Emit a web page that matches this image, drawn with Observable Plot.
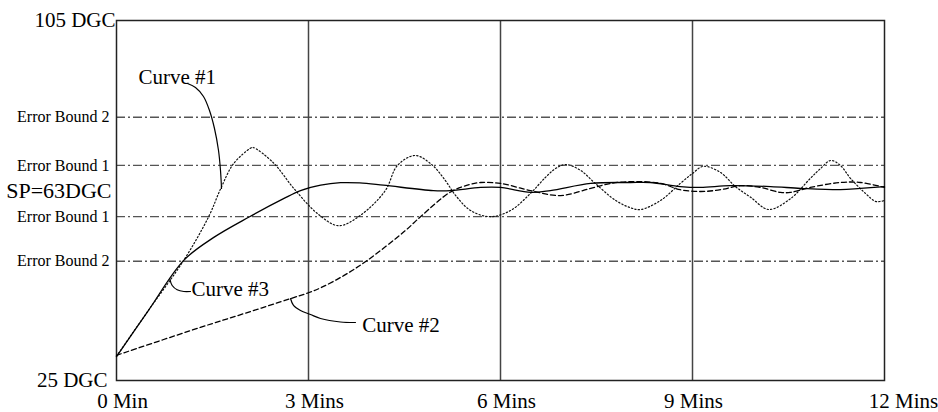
<!DOCTYPE html>
<html><head><meta charset="utf-8">
<script src="https://cdn.jsdelivr.net/npm/d3@7"></script>
<script src="https://cdn.jsdelivr.net/npm/@observablehq/plot@0.6"></script>
<style>body{margin:0;background:#fff} svg{overflow:visible}</style>
</head><body><div id="chart"></div>
<script>
// Curve #1 (dotted)
const curve1Minutes = [0, 0.5, 1.05, 1.44, 1.63, 1.83, 2.09, 2.13, 2.45, 2.77, 3.14, 3.47, 3.81, 4.20, 4.39, 4.67, 4.94, 5.14, 5.30, 5.53, 5.84, 6.16, 6.47, 6.70, 6.86, 7.02, 7.25, 7.48, 7.80, 8.03, 8.19, 8.50, 8.81, 9.00, 9.17, 9.44, 9.67, 9.91, 10.19, 10.53, 10.84, 11.00, 11.16, 11.31, 11.47, 11.70, 11.86, 11.94, 12.0];
const curve1Values  = [30.4, 40.6, 51.7, 61.4, 67.7, 73.2, 76.6, 76.8, 73.4, 67.7, 62.1, 59.4, 61.7, 67.2, 72.8, 75.0, 72.8, 69.4, 66.1, 62.8, 61.4, 62.8, 66.6, 70.1, 72.1, 73.0, 71.7, 68.8, 65.0, 63.4, 63.0, 65.0, 68.8, 71.0, 72.6, 71.2, 68.1, 65.7, 63.0, 65.4, 69.9, 72.1, 73.9, 72.8, 69.9, 66.6, 64.8, 64.8, 65.0];
// Curve #2 (dashed)
const curve2Minutes = [0, 1.31, 2.0, 2.72, 3.0, 3.19, 3.55, 3.92, 4.52, 4.75, 5.22, 5.53, 5.69, 6.0, 6.47, 6.94, 7.41, 7.72, 8.11, 8.50, 8.81, 9.13, 9.44, 9.75, 10.06, 10.375, 10.53, 10.84, 11.31, 11.625, 12.0];
const curve2Values  = [30.6, 36.8, 39.9, 43.2, 44.5, 45.6, 48.3, 51.7, 58.4, 61.4, 66.9, 68.6, 69.0, 68.8, 67.2, 66.1, 67.7, 68.8, 69.2, 68.8, 67.4, 67.0, 67.4, 68.3, 67.9, 66.8, 66.8, 67.9, 69.0, 69.0, 67.9];
// Curve #3 (solid)
const curve3Minutes = [0, 0.5, 1.05, 1.52, 2.08, 2.61, 2.875, 3.19, 3.5, 3.8, 4.17, 4.95, 5.22, 5.69, 6.0, 6.47, 6.78, 7.41, 8.03, 8.34, 8.81, 9.125, 9.59, 10.22, 10.69, 11.31, 11.625, 12.0];
const curve3Values  = [30.3, 40.6, 51.7, 56.8, 61.4, 65.4, 67.2, 68.4, 68.95, 68.9, 68.4, 67.2, 67.2, 67.9, 67.9, 66.8, 67.2, 68.8, 69.0, 69.0, 68.1, 67.9, 68.3, 68.1, 67.7, 67.4, 67.7, 68.1];

// Horizontal reference lines
const boundValues = [83.5, 72.8, 61.4, 51.5];
const boundLabels = ["Error Bound 2", "Error Bound 1", "Error Bound 1", "Error Bound 2"];
const spValue = 67.2;
const spLabel = "SP=63DGC";
const yEndValues = [105, 25];
const yEndLabels = ["105 DGC", "25 DGC"];

// X axis
const xTickValues = [0, 3, 6, 9, 12];
const xTickLabels = ["0 Min", "3 Mins", "6 Mins", "9 Mins", "12 Mins"];
const gridMinutes = [3, 6, 9];

// Annotations
const labelNames = ["Curve #1", "Curve #3", "Curve #2"];
const labelMinutes = [0.344, 1.17, 3.84];
const labelValues = [91.0, 43.67, 35.74];
const leader1Minutes = [1.109, 1.234, 1.359, 1.453, 1.531, 1.594, 1.625, 1.641];
const leader1Values = [91.0, 90.11, 88.11, 85.0, 81.0, 76.11, 71.67, 67.67];
const leader3Minutes = [0.833, 0.870, 0.948, 1.052, 1.156];
const leader3Values = [47.6, 46.11, 45.16, 44.78, 44.78];
const leader2Minutes = [2.719, 2.766, 2.875, 3.031, 3.1875, 3.5, 3.734];
const leader2Values = [43.22, 41.67, 40.56, 39.67, 38.78, 38.0, 37.89];

const rows = (xs, ys) => xs.map((x, i) => ({min: x, val: ys[i]}));
const c1 = rows(curve1Minutes, curve1Values);
const c2 = rows(curve2Minutes, curve2Values);
const c3 = rows(curve3Minutes, curve3Values);
const labels = labelNames.map((t, i) => ({t, min: labelMinutes[i], val: labelValues[i]}));
const l1 = rows(leader1Minutes, leader1Values);
const l2 = rows(leader2Minutes, leader2Values);
const l3 = rows(leader3Minutes, leader3Values);

const yLabelMap = new Map();
boundValues.forEach((v, i) => yLabelMap.set(v, boundLabels[i]));
yEndValues.forEach((v, i) => yLabelMap.set(v, yEndLabels[i]));
yLabelMap.set(spValue, spLabel);
const xLabelMap = new Map(xTickValues.map((v, i) => [v, xTickLabels[i]]));
const yf = d => yLabelMap.get(d);
const xf = d => xLabelMap.get(d);

const big = 21;
const chart = Plot.plot({
  width: 938, height: 412,
  marginLeft: 116, marginRight: 54, marginTop: 20, marginBottom: 32,
  x: {domain: [0, 12], axis: null},
  y: {domain: [25, 105], axis: null},
  style: {fontFamily: "'Liberation Serif', 'Times New Roman', serif", background: "#fff", color: "#000"},
  marks: [
    Plot.ruleY(boundValues, {stroke: "#555", strokeWidth: 1.3, strokeDasharray: "9,3,2,3"}),
    Plot.ruleX(gridMinutes, {stroke: "#444", strokeWidth: 1.5}),
    Plot.frame({stroke: "#222", strokeWidth: 1.5}),
    Plot.line(c1, {x: "min", y: "val", curve: "catmull-rom", stroke: "#111", strokeWidth: 1.2, strokeDasharray: "1.3,2.2"}),
    Plot.line(c2, {x: "min", y: "val", curve: "catmull-rom", stroke: "#000", strokeWidth: 1.3, strokeDasharray: "5,3"}),
    Plot.line(c3, {x: "min", y: "val", curve: "catmull-rom", stroke: "#000", strokeWidth: 1.3}),
    Plot.line(l1, {x: "min", y: "val", curve: "catmull-rom", stroke: "#000", strokeWidth: 1.2}),
    Plot.line(l2, {x: "min", y: "val", curve: "catmull-rom", stroke: "#000", strokeWidth: 1.2}),
    Plot.line(l3, {x: "min", y: "val", curve: "catmull-rom", stroke: "#000", strokeWidth: 1.2}),
    Plot.text(labels, {x: "min", y: "val", text: "t", textAnchor: "start", lineAnchor: "bottom", fontSize: big, fill: "#000"}),
    Plot.axisY([105], {tickFormat: yf, tickSize: 0, tickPadding: 1, fontSize: big, label: null}),
    Plot.axisY([25], {tickFormat: yf, tickSize: 0, tickPadding: 9, fontSize: big, label: null}),
    Plot.axisY([spValue], {tickFormat: yf, tickSize: 0, tickPadding: 5, fontSize: 22, label: null}),
    Plot.axisY(boundValues, {tickFormat: yf, tickSize: 0, tickPadding: 7, fontSize: 16, label: null}),
    Plot.axisX([0, 3, 6], {tickFormat: xf, tickSize: 0, tickPadding: 13, fontSize: big, dx: 6, label: null}),
    Plot.axisX([9], {tickFormat: xf, tickSize: 0, tickPadding: 13, fontSize: big, dx: 1, label: null}),
    Plot.axisX([12], {tickFormat: xf, tickSize: 0, tickPadding: 13, fontSize: big, dx: 19, label: null})
  ]
});
document.getElementById("chart").appendChild(chart);
</script>
</body></html>
